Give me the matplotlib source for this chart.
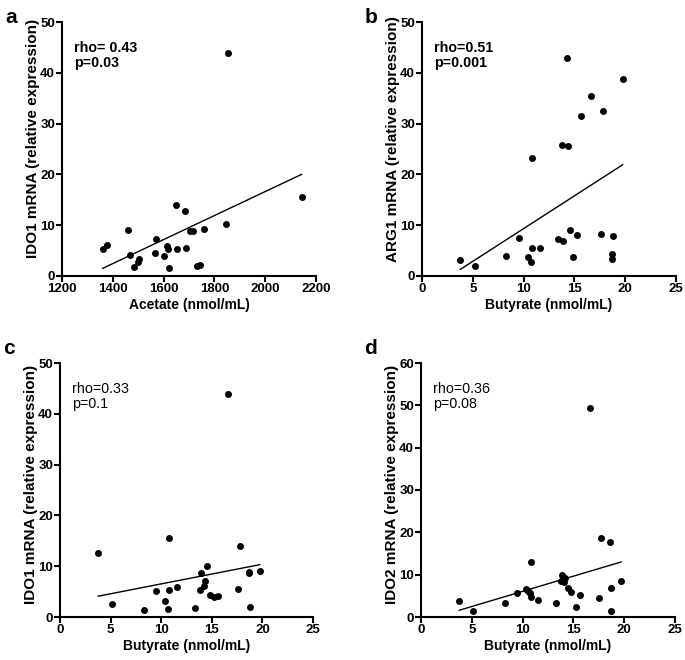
import matplotlib
matplotlib.use("Agg")
import matplotlib.pyplot as plt
import numpy as np

plt.rcParams['font.family'] = ['Liberation Sans', 'DejaVu Sans']

# Panel a: Acetate vs IDO1
acetate_a = [1854, 2143, 1847, 1650, 1684, 1458, 1760, 1702, 1715, 1569, 1360, 1376, 1613,
             1617, 1653, 1688, 1469, 1565, 1600, 1504, 1499, 1485, 1621, 1732, 1742]
ido1_a = [43.8, 15.6, 10.2, 14.0, 12.8, 9.06, 9.2, 8.8, 8.8, 7.3, 5.4, 6.1, 6.0,
          5.4, 5.4, 5.6, 4.2, 4.5, 3.9, 3.3, 2.8, 1.8, 1.6, 2.0, 2.1]
fit_a = [1.5, 20.0]

# Panel b: Butyrate vs ARG1
butyrate_b = [3.77, 5.18, 8.30, 9.51, 10.40, 10.70, 10.83, 10.86, 11.58, 13.35, 13.81, 13.91,
              14.24, 14.40, 14.57, 14.86, 15.29, 15.68, 16.67, 17.59, 17.78, 18.73, 18.70, 18.83, 19.75]
arg1_b = [3.15, 1.97, 4.0, 7.48, 3.67, 2.82, 5.51, 23.2, 5.45, 7.2, 25.7, 6.82,
          43.0, 25.6, 9.06, 3.8, 8.0, 31.4, 35.4, 8.27, 32.4, 4.27, 3.35, 7.8, 38.7]
fit_b = [1.3, 21.9]

# Panel c: Butyrate vs IDO1
butyrate_c = [3.78, 5.13, 8.28, 9.49, 10.38, 10.68, 10.81, 10.81, 11.53, 13.34, 13.80, 13.90,
              14.23, 14.36, 14.52, 14.82, 15.2, 15.6, 16.65, 17.57, 17.77, 18.7, 18.7, 18.79, 19.74]
ido1_c = [12.6, 2.5, 1.45, 5.2, 3.16, 1.58, 5.33, 15.5, 6.0, 1.78, 5.33, 8.6,
          6.05, 7.1, 10.1, 4.3, 3.95, 4.1, 43.8, 5.5, 13.9, 8.9, 8.6, 1.97, 9.0]
fit_c = [4.1, 10.3]

# Panel d: Butyrate vs IDO2
butyrate_d = [3.77, 5.15, 8.27, 9.48, 10.33, 10.53, 10.7, 10.79, 10.83, 11.52, 13.29, 13.85,
              13.75, 14.1, 14.2, 14.5, 14.76, 15.22, 15.62, 16.63, 17.55, 17.72, 18.64, 18.67, 18.7, 19.69]
ido2_d = [3.7, 1.42, 3.39, 5.75, 6.6, 6.1, 5.6, 4.8, 12.9, 3.9, 3.3, 10.0,
          8.4, 8.3, 9.1, 6.8, 5.8, 2.3, 5.2, 49.3, 4.4, 18.6, 17.7, 6.8, 1.5, 8.5]
fit_d = [1.6, 13.0]

W, H = 685, 660
fig = plt.figure(figsize=(W / 100, H / 100), dpi=100)


def make_ax(left, top, right, bottom):
    return fig.add_axes([left / W, 1 - bottom / H, (right - left) / W, (bottom - top) / H])


panels = [
    dict(box=(62, 22, 316, 276), x=acetate_a, y=ido1_a, fit=fit_a,
         xlim=(1200, 2200), xticks=np.arange(1200, 2201, 200), ylim=(0, 50), yticks=np.arange(0, 51, 10),
         xlabel='Acetate (nmol/mL)', ylabel='IDO1 mRNA (relative expression)',
         text='rho= 0.43\np=0.03', bold=True, letter='a', ly=0.54, loff=14),
    dict(box=(422, 22, 676, 276), x=butyrate_b, y=arg1_b, fit=fit_b,
         xlim=(0, 25), xticks=np.arange(0, 26, 5), ylim=(0, 50), yticks=np.arange(0, 51, 10),
         xlabel='Butyrate (nmol/mL)', ylabel='ARG1 mRNA (relative expression)',
         text='rho=0.51\np=0.001', bold=True, letter='b', ly=0.54, loff=14),
    dict(box=(60, 363, 313, 617), x=butyrate_c, y=ido1_c, fit=fit_c,
         xlim=(0, 25), xticks=np.arange(0, 26, 5), ylim=(0, 50), yticks=np.arange(0, 51, 10),
         xlabel='Butyrate (nmol/mL)', ylabel='IDO1 mRNA (relative expression)',
         text='rho=0.33\np=0.1', bold=False, letter='c', ly=0.52, loff=24),
    dict(box=(421, 363, 675, 617), x=butyrate_d, y=ido2_d, fit=fit_d,
         xlim=(0, 25), xticks=np.arange(0, 26, 5), ylim=(0, 60), yticks=np.arange(0, 61, 10),
         xlabel='Butyrate (nmol/mL)', ylabel='IDO2 mRNA (relative expression)',
         text='rho=0.36\np=0.08', bold=False, letter='d', ly=0.52, loff=24),
]

for p in panels:
    ax = make_ax(*p['box'])
    x = np.array(p['x'])
    y = np.array(p['y'])
    ax.scatter(x, y, s=25, color='black', zorder=3, clip_on=False, linewidths=0)
    ax.plot([x.min(), x.max()], p['fit'], color='black', lw=1.0)
    ax.set_xlim(*p['xlim'])
    ax.set_ylim(*p['ylim'])
    ax.set_xticks(p['xticks'])
    ax.set_yticks(p['yticks'])
    for s in ['top', 'right']:
        ax.spines[s].set_visible(False)
    for s in ['left', 'bottom']:
        ax.spines[s].set_linewidth(1.5)
    ax.tick_params(direction='out', length=4, width=1.5, labelsize=9.5, pad=1)
    for lab in ax.get_xticklabels() + ax.get_yticklabels():
        lab.set_fontweight('bold')
    ax.set_xlabel(p['xlabel'], fontsize=10, fontweight='bold', labelpad=2)
    ax.set_ylabel(p['ylabel'], fontsize=11, fontweight='bold')
    ax.yaxis.set_label_coords(-0.088, p['ly'])
    ax.text(0.047, 0.925, p['text'], transform=ax.transAxes, ha='left', va='top',
            fontsize=10.3, fontweight='bold' if p['bold'] else 'normal', linespacing=1.1)
    bx = p['box']
    fig.text((bx[0] - 57) / W, 1 - (bx[1] - p['loff']) / H, p['letter'], fontsize=15,
             fontweight='bold', ha='left', va='top')

fig.savefig('out.png', dpi=100)
